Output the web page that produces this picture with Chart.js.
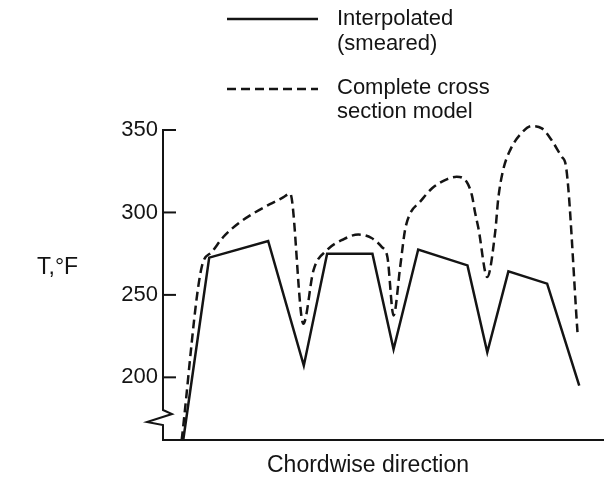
<!DOCTYPE html>
<html><head><meta charset="utf-8">
<script src="https://cdn.jsdelivr.net/npm/chart.js@4/dist/chart.umd.min.js"></script>
<style>html,body{margin:0;padding:0;background:#fff;}#wrap{width:605px;height:484px;}</style>
</head><body><div id="wrap"><canvas id="c" width="605" height="484"></canvas></div>
<script>
// ---- data ----
const yTicks = [200, 250, 300, 350];
const yMin = 162, yMax = 350;
const xMin = 0, xMax = 100;

// Interpolated (smeared)
const solidX = [4.6, 10.5, 23.9, 32.0, 37.3, 47.6, 52.4, 58.0, 69.2, 73.7, 78.5, 87.3, 94.6];
const solidT = [162, 272.6, 282.7, 207.1, 275, 275, 217, 277.5, 267.9, 215.2, 264.3, 256.8, 195];

// Complete cross section model
const dashX = [4.25, 8.8, 11.1, 13.7, 17.1, 20.5, 24.3, 27.3, 28.9, 31.9, 34.2, 37.2, 41.0, 44.4, 47.4, 49.7, 51.0, 52.4,
               53.9, 55.0, 56.1, 58.4, 61.1, 64.1, 66.75, 69.0, 70.2, 70.9, 71.7, 73.7,
               75.5, 76.2, 77.3, 78.9, 81.1, 83.8, 86.1, 88.3, 90.6, 91.6, 94.2];
const dashT = [162, 266.9, 276, 285.1, 293.3, 299.4, 305, 309.1, 311.5, 232.5, 264.9, 277, 283.7, 286.6, 284.5, 279.1, 273, 237.5,
               266.9, 289.2, 299, 306.4, 314.5, 319.6, 321.6, 318.6, 310.5, 300.3, 290.2, 260.8,
               288.2, 308.5, 325.7, 337.8, 347, 352.4, 351, 343.9, 333.8, 327.7, 227.4];

const seriesLabels = [["Interpolated", "(smeared)"], ["Complete cross", "section model"]];
const xTitle = "Chordwise direction";
const yTitle = "T,\u00B0F";

// ---- styling ----
const INK = '#141414';
const FONT = '"Liberation Sans", Arial, Helvetica, sans-serif';

const decor = {
  id: 'decor',
  afterDraw(chart) {
    const ctx = chart.ctx;
    const ys = chart.scales.y;
    const ca = chart.chartArea;
    const L = ca.left;
    const top = ys.getPixelForValue(yTicks[yTicks.length - 1]);
    const bot = ca.bottom;
    ctx.save();
    // y axis line with break symbol
    ctx.strokeStyle = INK;
    ctx.lineWidth = 2;
    ctx.lineJoin = 'miter';
    ctx.beginPath();
    ctx.moveTo(L, top);
    ctx.lineTo(L, bot - 30);
    ctx.lineTo(L + 9, bot - 26);
    ctx.lineTo(L - 16, bot - 18);
    ctx.lineTo(L, bot - 15);
    ctx.lineTo(L, bot);
    ctx.stroke();
    // inward tick marks
    yTicks.forEach(v => {
      const p = ys.getPixelForValue(v);
      ctx.beginPath();
      ctx.moveTo(L - 1, p);
      ctx.lineTo(L + 13, p);
      ctx.stroke();
    });
    // y title (horizontal)
    ctx.fillStyle = INK;
    ctx.font = '23px ' + FONT;
    ctx.textBaseline = 'middle';
    ctx.textAlign = 'left';
    ctx.fillText(yTitle, 37, 268);
    // x title
    ctx.textAlign = 'center';
    ctx.fillText(xTitle, 368, 466);
    // legend
    ctx.font = '22px ' + FONT;
    const lineYs = [19, 89];
    const textYs = [[19, 44], [88, 112]];
    chart.data.datasets.forEach((ds, i) => {
      ctx.strokeStyle = ds.borderColor;
      ctx.lineWidth = ds.borderWidth;
      ctx.setLineDash(ds.borderDash || []);
      ctx.beginPath();
      ctx.moveTo(227, lineYs[i]);
      ctx.lineTo(318, lineYs[i]);
      ctx.stroke();
      ctx.setLineDash([]);
      ctx.textAlign = 'left';
      seriesLabels[i].forEach((t, j) => ctx.fillText(t, 337, textYs[i][j]));
    });
    ctx.restore();
  }
};

new Chart(document.getElementById('c'), {
  type: 'line',
  data: {
    datasets: [
      {
        label: seriesLabels[0].join(' '),
        data: solidX.map((x, i) => ({ x, y: solidT[i] })),
        borderColor: INK, borderWidth: 2.5, pointRadius: 0, tension: 0,
        borderJoinStyle: 'miter', clip: false, fill: false
      },
      {
        label: seriesLabels[1].join(' '),
        data: dashX.map((x, i) => ({ x, y: dashT[i] })),
        borderColor: INK, borderWidth: 2.5, borderDash: [9, 5], pointRadius: 0,
        cubicInterpolationMode: 'monotone', clip: false, fill: false
      }
    ]
  },
  options: {
    responsive: false,
    animation: false,
    devicePixelRatio: 1,
    layout: { padding: { top: 130, right: 2, bottom: 44, left: 0 } },
    plugins: { legend: { display: false }, tooltip: { enabled: false }, title: { display: false } },
    scales: {
      x: {
        type: 'linear', min: xMin, max: xMax,
        grid: { display: false, drawTicks: false },
        border: { display: true, color: INK, width: 2 },
        ticks: { display: false },
        afterFit(s) { s.height = 0; }
      },
      y: {
        type: 'linear', min: yMin, max: yMax,
        grid: { display: false, drawTicks: false },
        border: { display: false },
        afterBuildTicks(s) { s.ticks = yTicks.map(v => ({ value: v })); },
        ticks: { color: INK, padding: 5, font: { family: FONT, size: 22 } },
        afterFit(s) { s.width = 163; }
      }
    }
  },
  plugins: [decor]
});
</script></body></html>
